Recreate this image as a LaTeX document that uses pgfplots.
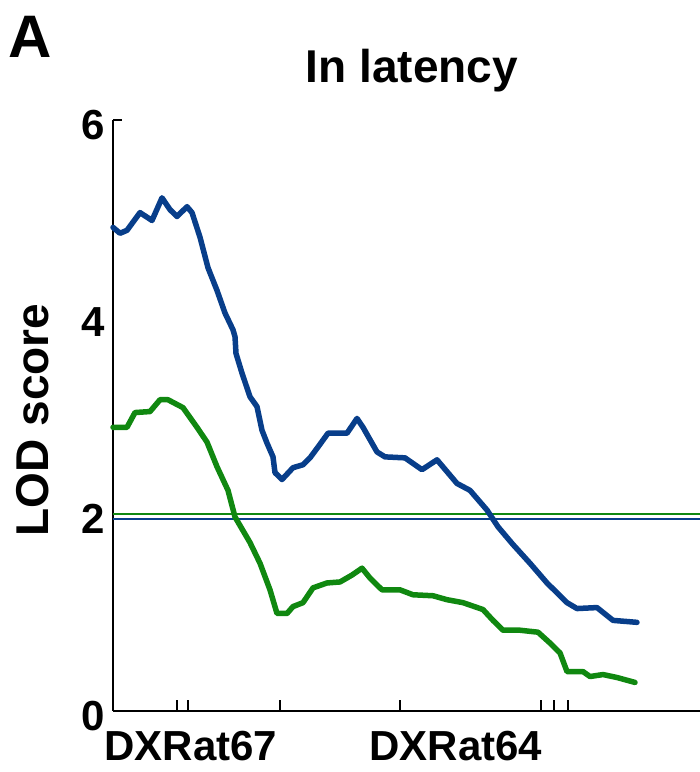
\documentclass[border=0pt]{standalone}
\usepackage{fontspec}
\setmainfont{Liberation Sans}
\usepackage{pgfplots}
\pgfplotsset{compat=1.18}
\definecolor{lodblue}{HTML}{083E8A}
\definecolor{lodgreen}{HTML}{108810}
\begin{document}
\begin{tikzpicture}[x=1pt,y=1pt]
\useasboundingbox (0,0) rectangle (700,772);
\begin{axis}[
  at={(113pt,61pt)}, anchor=south west,
  scale only axis, width=587pt, height=591pt,
  xmin=0, xmax=587, ymin=0, ymax=6,
  axis x line=bottom, axis y line=left,
  axis line style={-, line width=2pt, black},
  xtick={64,75,167,287,428,441,455},
  xticklabels={},
  xtick style={line width=1.8pt, black},
  major tick length=11pt,
  tick align=inside,
  ytick={0,2,4,6},
  ytick style={draw=none},
  extra y ticks={6},
  extra y tick labels={},
  extra y tick style={ytick style={draw=black, line width=1.8pt}, major tick length=9pt, tick align=inside},
  /pgf/number format/assume math mode=true,
  yticklabel style={font=\fontsize{42}{46}\selectfont\bfseries, anchor=east, xshift=-5pt, yshift=-5pt},
  clip=false,
]
\addplot[lodgreen, line width=2.5pt, forget plot] coordinates {(0,2.0) (587,2.0)};
\addplot[lodblue, line width=2.5pt, forget plot] coordinates {(0,1.95) (587,1.95)};
\addplot[lodblue, line width=5.5pt, line join=round, line cap=round] coordinates {
(0,4.91)(7,4.85)(14,4.88)(27,5.06)(39,4.98)(49,5.21)(57,5.09)(64,5.02)(74,5.12)(79,5.06)(87,4.81)(95,4.50)(104,4.27)(112,4.04)(120,3.87)(122,3.80)(123,3.63)(129,3.43)(137,3.19)(144,3.09)(149,2.85)(154,2.72)(160,2.58)(162,2.42)(169,2.35)(180,2.47)(190,2.50)(197,2.57)(205,2.68)(215,2.82)(234,2.82)(244,2.97)(250,2.88)(264,2.63)(272,2.58)(292,2.57)(309,2.45)(324,2.55)(344,2.31)(357,2.24)(374,2.04)(385,1.87)(400,1.69)(417,1.50)(434,1.30)(454,1.10)(464,1.04)(484,1.05)(500,0.92)(524,0.90)
};
\addplot[lodgreen, line width=5.5pt, line join=round, line cap=round] coordinates {
(0,2.88)(14,2.88)(22,3.03)(37,3.04)(47,3.16)(55,3.16)(70,3.08)(84,2.88)(94,2.73)(104,2.48)(115,2.24)(122,1.97)(137,1.71)(147,1.50)(157,1.23)(164,0.99)(174,0.99)(180,1.06)(190,1.10)(200,1.25)(214,1.30)(227,1.31)(239,1.38)(249,1.45)(257,1.35)(269,1.23)(287,1.23)(300,1.18)(320,1.17)(334,1.13)(350,1.10)(370,1.03)(380,0.92)(390,0.82)(407,0.82)(425,0.80)(437,0.69)(447,0.59)(454,0.40)(470,0.40)(477,0.35)(490,0.37)(504,0.34)(522,0.29)
};
\end{axis}
\node[anchor=base west, inner sep=0pt, font=\fontsize{60}{64}\selectfont\bfseries] at (8,714) {A};
\node[anchor=base, inner sep=0pt, font=\fontsize{46}{50}\selectfont\bfseries] at (412,689) {In latency};
\node[anchor=center, rotate=90, inner sep=0pt, font=\fontsize{46}{50}\selectfont\bfseries] at (33,352) {LOD score};
\node[anchor=base, inner sep=0pt, font=\fontsize{42}{46}\selectfont\bfseries] at (191,11) {DXRat67};
\node[anchor=base, inner sep=0pt, font=\fontsize{42}{46}\selectfont\bfseries] at (456,11) {DXRat64};
\end{tikzpicture}
\end{document}
